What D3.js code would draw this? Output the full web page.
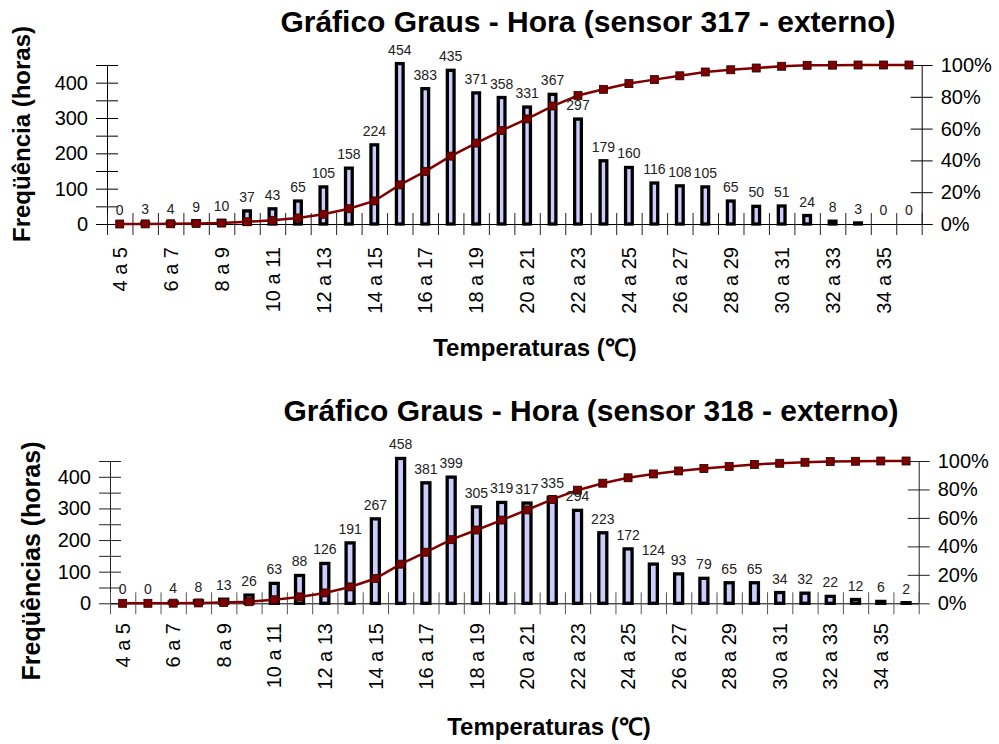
<!DOCTYPE html>
<html><head><meta charset="utf-8">
<script src="https://cdn.jsdelivr.net/npm/d3@7"></script>
<style>
body{margin:0;background:#fff}
svg{display:block}
text{font-family:"Liberation Sans",Arial,Helvetica,sans-serif}
</style>
</head><body>
<svg id="c" width="999" height="744"></svg>
<script>
// ---------- data ----------
const categories = ["4 a 5","5 a 6","6 a 7","7 a 8","8 a 9","9 a 10","10 a 11","11 a 12","12 a 13","13 a 14",
  "14 a 15","15 a 16","16 a 17","17 a 18","18 a 19","19 a 20","20 a 21","21 a 22","22 a 23","23 a 24",
  "24 a 25","25 a 26","26 a 27","27 a 28","28 a 29","29 a 30","30 a 31","31 a 32","32 a 33","33 a 34",
  "34 a 35","35 a 36"];
const shownCategoryLabels = ["4 a 5","6 a 7","8 a 9","10 a 11","12 a 13","14 a 15","16 a 17","18 a 19",
  "20 a 21","22 a 23","24 a 25","26 a 27","28 a 29","30 a 31","32 a 33","34 a 35"];
const freqTicks = [0,100,200,300,400];
const freqMinorTicks = [0,50,100,150,200,250,300,350,400,450];
const pctTicks = [0,20,40,60,80,100];

const sensor317Hours = [0,3,4,9,10,37,43,65,105,158,224,454,383,435,371,358,331,367,297,179,160,116,108,105,65,50,51,24,8,3,0,0];
const sensor317CumPct = [0,0.07,0.15,0.35,0.57,1.4,2.3,3.8,6.1,9.6,14.5,24.6,33.1,42.7,50.9,58.8,66.1,74.2,80.8,84.7,88.3,90.8,93.2,95.6,97.0,98.1,99.2,99.8,99.9,100,100,100];

const sensor318Hours = [0,0,4,8,13,26,63,88,126,191,267,458,381,399,305,319,317,335,294,223,172,124,93,79,65,65,34,32,22,12,6,2];
const sensor318CumPct = [0,0,0.09,0.27,0.55,1.1,2.5,4.5,7.3,11.5,17.4,27.5,35.9,44.7,51.5,58.5,65.6,73.0,79.5,84.4,88.2,90.9,93.0,94.7,96.2,97.6,98.4,99.1,99.6,99.8,100,100];

const title317 = "Gráfico Graus - Hora (sensor 317 - externo)";
const title318 = "Gráfico Graus - Hora (sensor 318 - externo)";
const xTitle = "Temperaturas (\u2103)";
const yTitle317 = "Freqüência (horas)";
const yTitle318 = "Freqüências (horas)";

// ---------- drawing ----------
const svg = d3.select("#c");
const FONT = "Liberation Sans, Arial, sans-serif";

function drawChart(cfg, hours, cum, title, yTitle) {
  const g = svg.append("g");
  const x = d3.scaleBand().domain(categories).range([cfg.left, cfg.right]).padding(0);
  const xb = d3.scaleLinear().domain([0, categories.length]).range([cfg.left, cfg.right]);
  const y = d3.scaleLinear().domain([0, 450]).range([cfg.bottom, cfg.top]);
  const y2 = d3.scaleLinear().domain([0, 100]).range([cfg.bottom, cfg.top]);
  const cx = i => x(categories[i]) + x.bandwidth() / 2;

  // left value axis
  g.append("g").attr("transform", `translate(${cfg.left},0)`)
    .call(d3.axisLeft(y).tickValues(freqMinorTicks).tickSize(11).tickSizeOuter(0)
      .tickFormat(d => freqTicks.includes(d) ? d : ""))
    .call(a => {
      a.attr("font-size", 20).attr("font-family", FONT);
      a.select(".domain").attr("stroke", cfg.axisColor);
      a.selectAll(".tick line").attr("x1", 11).attr("x2", -11).attr("stroke", cfg.axisColor);
      a.selectAll(".tick text").attr("x", -19).attr("fill", "#000");
    });

  // right percentage axis
  g.append("g").attr("transform", `translate(${cfg.right},0)`)
    .call(d3.axisRight(y2).tickValues(pctTicks).tickSize(11).tickSizeOuter(0)
      .tickFormat(d => d + "%"))
    .call(a => {
      a.attr("font-size", 20).attr("font-family", FONT);
      a.select(".domain").attr("stroke", cfg.axisColor);
      a.selectAll(".tick line").attr("x1", -11).attr("x2", 11).attr("stroke", cfg.axisColor);
      a.selectAll(".tick text").attr("x", 19).attr("fill", "#000");
    });

  // category axis with boundary ticks
  g.append("g").attr("transform", `translate(0,${cfg.bottom})`)
    .call(d3.axisBottom(xb).tickValues(d3.range(categories.length + 1)).tickFormat("").tickSize(11).tickSizeOuter(0))
    .call(a => {
      a.select(".domain").attr("stroke", "#000");
      a.selectAll(".tick line").attr("y1", -11).attr("y2", 11).attr("stroke", cfg.catTickColor);
    });

  // category labels
  g.append("g").attr("transform", `translate(0,${cfg.labelTop})`)
    .call(d3.axisBottom(x).tickValues(shownCategoryLabels).tickSize(0))
    .call(a => {
      a.attr("font-size", 20).attr("font-family", FONT);
      a.select(".domain").remove();
      a.selectAll(".tick text").attr("transform", "rotate(-90)").attr("text-anchor", "end")
        .attr("x", 0).attr("y", 0).attr("dy", "0.36em").attr("fill", "#000");
    });

  // bars
  g.append("g").selectAll("rect").data(hours).join("rect")
    .attr("x", (d, i) => cx(i) - cfg.barW / 2)
    .attr("width", cfg.barW)
    .attr("y", d => y(d))
    .attr("height", d => y(0) - y(d))
    .attr("fill", "#CCCCFF")
    .attr("stroke", "#000")
    .attr("stroke-width", 3.3);

  // cumulative line
  const line = d3.line().x((d, i) => cx(i)).y(d => y2(d));
  g.append("path").datum(cum).attr("d", line)
    .attr("fill", "none").attr("stroke", "#800000").attr("stroke-width", 2.5);
  g.append("g").selectAll("rect").data(cum).join("rect")
    .attr("x", (d, i) => cx(i) - 4).attr("y", d => y2(d) - 4)
    .attr("width", 8).attr("height", 8)
    .attr("fill", "#800000").attr("stroke", "#200000").attr("stroke-width", 0.8);

  // data labels
  g.append("g").selectAll("text").data(hours).join("text")
    .attr("x", (d, i) => cx(i)).attr("y", d => y(d) - 9)
    .attr("text-anchor", "middle").attr("font-size", 14).attr("fill", "#222")
    .text(d => d);

  // titles
  g.append("text").attr("x", cfg.titleX).attr("y", cfg.titleY)
    .attr("text-anchor", "middle").attr("font-size", 30).attr("font-weight", "bold")
    .text(title);
  g.append("text").attr("x", cfg.xTitleX).attr("y", cfg.xTitleY)
    .attr("text-anchor", "middle").attr("font-size", 24).attr("font-weight", "bold")
    .text(xTitle);
  g.append("text").attr("transform", `translate(${cfg.yTitleX},${cfg.yTitleY}) rotate(-90)`)
    .attr("text-anchor", "middle").attr("dy", "0.35em").attr("font-size", cfg.yTitleSize).attr("font-weight", "bold")
    .text(yTitle);
}

drawChart({left: 107, right: 921.7, top: 65, bottom: 224, labelTop: 247, axisColor: "#000", catTickColor: "#222", barW: 6.7,
  titleX: 588, titleY: 32, xTitleX: 535, xTitleY: 356, yTitleX: 22, yTitleY: 134, yTitleSize: 24},
  sensor317Hours, sensor317CumPct, title317, yTitle317);

drawChart({left: 110, right: 918.7, top: 461, bottom: 603.3, labelTop: 623, axisColor: "#222", catTickColor: "#555", barW: 8,
  titleX: 591, titleY: 421, xTitleX: 549, xTitleY: 735, yTitleX: 31, yTitleY: 561, yTitleSize: 25},
  sensor318Hours, sensor318CumPct, title318, yTitle318);
</script>
</body></html>
